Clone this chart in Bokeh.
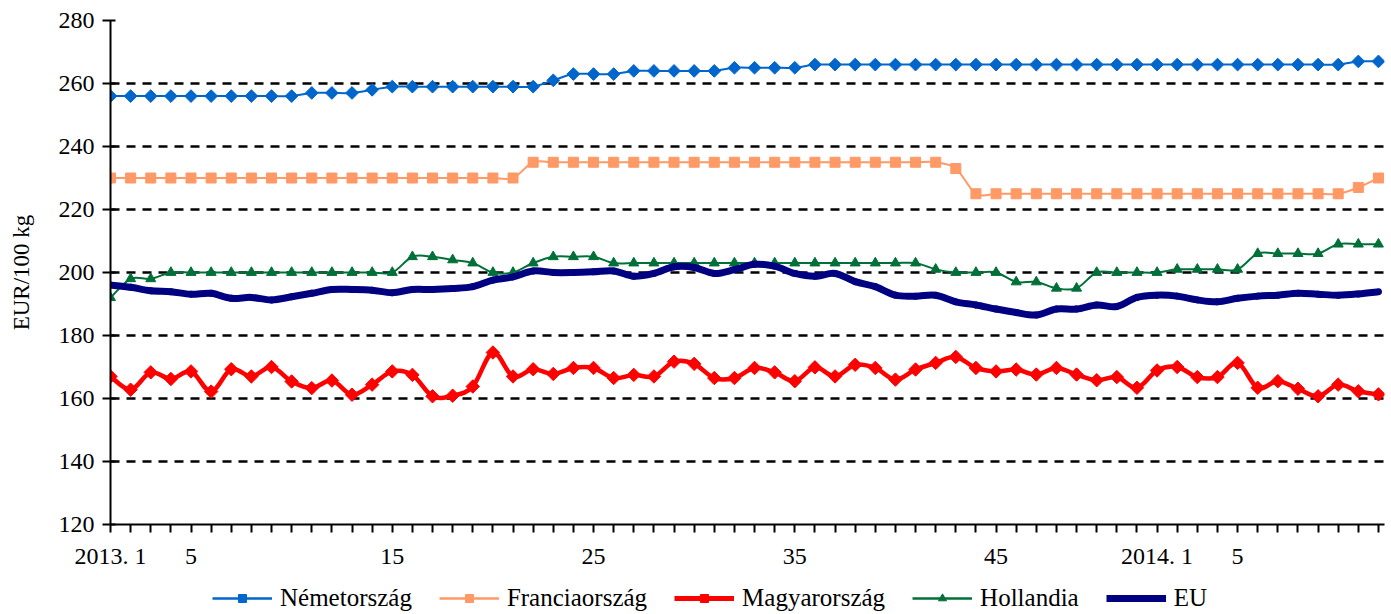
import math
from bokeh.plotting import figure
from bokeh.layouts import column
from bokeh.models import FixedTicker, Legend, LegendItem, Range1d, ColumnDataSource
from bokeh.embed import file_html
from bokeh.resources import INLINE

# ---- categories (weeks) ----
weeks_2013 = list(range(1, 53))
weeks_2014 = list(range(1, 13))
categories = [f"2013. {w}" for w in weeks_2013] + [f"2014. {w}" for w in weeks_2014]
labelled = ["2013. 1", "2013. 5", "2013. 15", "2013. 25", "2013. 35", "2013. 45", "2014. 1", "2014. 5"]
y_ticks = [120, 140, 160, 180, 200, 220, 240, 260, 280]

# ---- series (EUR/100 kg) ----
nemetorszag = [256, 256, 256, 256, 256, 256, 256, 256, 256, 256,
               257, 257, 257, 258, 259, 259, 259, 259, 259, 259,
               259, 259, 261, 263, 263, 263, 264, 264, 264, 264,
               264, 265, 265, 265, 265, 266, 266, 266, 266, 266,
               266, 266, 266, 266, 266, 266, 266, 266, 266, 266,
               266, 266, 266, 266, 266, 266, 266, 266, 266, 266,
               266, 266, 267, 267]
franciaorszag = [230, 230, 230, 230, 230, 230, 230, 230, 230, 230,
                 230, 230, 230, 230, 230, 230, 230, 230, 230, 230,
                 230, 235, 235, 235, 235, 235, 235, 235, 235, 235,
                 235, 235, 235, 235, 235, 235, 235, 235, 235, 235,
                 235, 235, 233, 225, 225, 225, 225, 225, 225, 225,
                 225, 225, 225, 225, 225, 225, 225, 225, 225, 225,
                 225, 225, 227, 230]
magyarorszag = [167.0, 162.8, 168.3, 166.2, 168.6, 162.2, 169.3, 167.0, 170.0, 165.4,
                163.3, 165.7, 161.2, 164.4, 168.6, 167.5, 160.7, 160.9, 163.8, 174.6,
                167.0, 169.3, 167.8, 169.7, 169.7, 166.5, 167.5, 167.0, 171.7, 171.0,
                166.5, 166.5, 169.7, 168.3, 165.5, 169.9, 167.0, 170.7, 169.7, 166.0,
                169.2, 171.3, 173.2, 169.7, 168.6, 169.2, 167.6, 169.7, 167.6, 165.8,
                166.8, 163.4, 168.9, 170.0, 166.8, 166.8, 171.3, 163.4, 165.5, 163.1,
                160.7, 164.4, 162.3, 161.3]
hollandia = [192, 198, 198, 200, 200, 200, 200, 200, 200, 200,
             200, 200, 200, 200, 200, 205, 205, 204, 203, 200,
             200, 203, 205, 205, 205, 203, 203, 203, 203, 203,
             203, 203, 203, 203, 203, 203, 203, 203, 203, 203,
             203, 201, 200, 200, 200, 197, 197, 195, 195, 200,
             200, 200, 200, 201, 201, 201, 201, 206, 206, 206,
             206, 209, 209, 209]
eu = [196.0, 195.3, 194.2, 193.9, 193.1, 193.4, 191.8, 192.1, 191.3, 192.3,
      193.4, 194.6, 194.6, 194.4, 193.6, 194.6, 194.6, 194.9, 195.5, 197.6,
      198.6, 200.5, 200.0, 200.0, 200.2, 200.5, 198.8, 199.7, 201.8, 201.6,
      199.7, 200.9, 202.6, 202.0, 199.7, 198.8, 199.7, 197.1, 195.5, 192.8,
      192.5, 192.8, 190.7, 189.7, 188.4, 187.3, 186.5, 188.4, 188.4, 189.7,
      189.2, 192.1, 192.8, 192.5, 191.3, 190.7, 191.8, 192.5, 192.8, 193.4,
      193.1, 192.8, 193.2, 193.9]

xs = list(range(len(categories)))


def smooth_source(x, y):
    """Bezier control points for a smoothed (Catmull-Rom style) line through the data."""
    n = len(x)
    d = dict(x0=[], y0=[], x1=[], y1=[], cx0=[], cy0=[], cx1=[], cy1=[])
    for i in range(n - 1):
        a = max(i - 1, 0)
        b = min(i + 2, n - 1)
        d["x0"].append(x[i]); d["y0"].append(y[i])
        d["x1"].append(x[i + 1]); d["y1"].append(y[i + 1])
        d["cx0"].append(x[i] + (x[i + 1] - x[a]) / 6.0)
        d["cy0"].append(y[i] + (y[i + 1] - y[a]) / 6.0)
        d["cx1"].append(x[i + 1] - (x[b] - x[i]) / 6.0)
        d["cy1"].append(y[i + 1] - (y[b] - y[i]) / 6.0)
    return ColumnDataSource(d)


FONT = "Liberation Serif"

p = figure(width=1387, height=571, output_backend="svg", toolbar_location=None,
           x_range=Range1d(0, len(categories) - 1 + 0.3), y_range=Range1d(120, 280),
           min_border_left=110, min_border_right=3, min_border_top=20, min_border_bottom=46)
p.outline_line_color = None
p.xgrid.grid_line_color = None
p.ygrid.grid_line_color = "black"
p.ygrid.grid_line_dash = "9 7"
p.ygrid.grid_line_width = 2.5

# legend-only strip below the chart (its copies of the series lie outside its own y range)
pl = figure(width=1387, height=43, output_backend="svg", toolbar_location=None,
            x_axis_location=None, y_axis_location=None,
            x_range=Range1d(0, len(categories) - 1), y_range=Range1d(0, 1),
            min_border_left=0, min_border_right=0, min_border_top=0, min_border_bottom=0)
pl.outline_line_color = None
pl.grid.visible = False

series = [
    # name, values, colour, line width, marker, size, angle, legend marker, legend size
    ("Németország", nemetorszag, "#0066CC", 2, "square", 9, math.pi / 4, "square", 11),
    ("Franciaország", franciaorszag, "#FF9966", 2, "square", 10, 0, "square", 14),
    ("Magyarország", magyarorszag, "#FF0000", 4.5, "square", 9.5, math.pi / 4, "square", 12),
    ("Hollandia", hollandia, "#007038", 2, "triangle", 10, 0, "triangle", 15),
]

items = []
for name, vals, color, lw, marker, size, ang, lmarker, lsize in series:
    src = smooth_source(xs, vals)
    p.bezier(x0="x0", y0="y0", x1="x1", y1="y1", cx0="cx0", cy0="cy0",
             cx1="cx1", cy1="cy1", source=src, line_color=color,
             line_width=lw, line_cap="round")
    p.scatter(xs, vals, marker=marker, size=size, angle=ang,
              fill_color=color, line_color=color, line_width=1)
    lg_line = pl.line(xs, vals, line_color=color, line_width=lw + 0.5)
    lg_pts = pl.scatter(xs, vals, marker=lmarker, size=lsize, angle=ang,
                        fill_color=color, line_color=color)
    items.append(LegendItem(label=name, renderers=[lg_line, lg_pts]))

src_eu = smooth_source(xs, eu)
p.bezier(x0="x0", y0="y0", x1="x1", y1="y1", cx0="cx0", cy0="cy0",
         cx1="cx1", cy1="cy1", source=src_eu, line_color="#000080",
         line_width=7, line_cap="round")
lg_eu = pl.line(xs, eu, line_color="#000080", line_width=7)
items.append(LegendItem(label="EU", renderers=[lg_eu]))

# x axis
shown = {}
for i, c in enumerate(categories):
    if c in labelled:
        year, wk = c.split(". ")
        shown[i] = c if wk == "1" else wk
    else:
        shown[i] = ""
p.xaxis.ticker = FixedTicker(ticks=xs)
p.xaxis.major_label_overrides = shown
p.xaxis.minor_tick_line_color = None
p.xaxis.major_tick_out = 8
p.xaxis.major_tick_in = 0
p.xaxis.major_label_standoff = 10
p.xaxis.axis_line_width = 2
p.xaxis.major_tick_line_width = 2

# y axis
p.yaxis.ticker = FixedTicker(ticks=y_ticks)
p.yaxis.minor_tick_line_color = None
p.yaxis.major_tick_out = 8
p.yaxis.major_tick_in = 5
p.yaxis.major_label_standoff = 8
p.yaxis.axis_line_width = 2
p.yaxis.major_tick_line_width = 2
p.yaxis.axis_label = "EUR/100 kg"
p.yaxis.axis_label_standoff = 22
p.yaxis.axis_label_text_font_style = "normal"

for ax in (p.xaxis, p.yaxis):
    ax.major_label_text_font = FONT
    ax.major_label_text_font_size = "24px"
    ax.major_label_text_color = "black"
    ax.axis_label_text_font = FONT
    ax.axis_label_text_font_size = "23px"
    ax.axis_label_text_color = "black"
    ax.axis_line_color = "black"
    ax.major_tick_line_color = "black"

legend = Legend(items=items, orientation="horizontal", location=(102, 2),
                glyph_width=60, glyph_height=20, label_standoff=8, spacing=27,
                padding=0, margin=0, border_line_alpha=0, background_fill_alpha=0,
                label_text_font=FONT, label_text_font_size="25px",
                label_text_color="black")
pl.add_layout(legend, "center")

layout = column(p, pl, spacing=0)
open("out.html", "w").write(file_html(layout, INLINE))
